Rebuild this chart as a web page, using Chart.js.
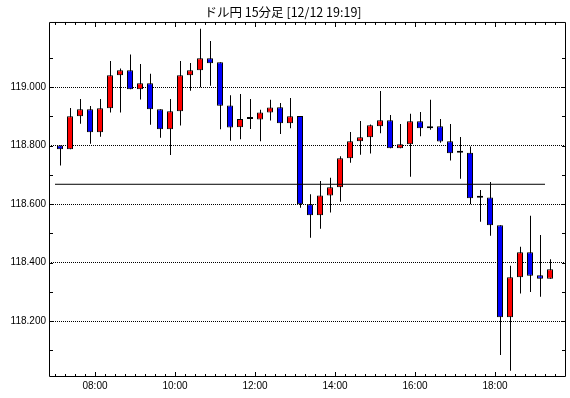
<!DOCTYPE html>
<html>
<head>
<meta charset="utf-8">
<style>
  html, body { margin: 0; padding: 0; background: #ffffff; }
  #wrap { width: 570px; height: 398px; position: relative; }
</style>
<script src="https://cdn.jsdelivr.net/npm/chart.js@4/dist/chart.umd.min.js"></script>
</head>
<body>
<div id="wrap"><canvas id="c" width="570" height="398"></canvas></div>
<script>
const titleText = 'ドル円 15分足 [12/12 19:19]';
const times = ['07:00','07:15','07:30','07:45','08:00','08:15','08:30','08:45','09:00','09:15',
  '09:30','09:45','10:00','10:15','10:30','10:45','11:00','11:15','11:30','11:45',
  '12:00','12:15','12:30','12:45','13:00','13:15','13:30','13:45','14:00','14:15',
  '14:30','14:45','15:00','15:15','15:30','15:45','16:00','16:15','16:30','16:45',
  '17:00','17:15','17:30','17:45','18:00','18:15','18:30','18:45','19:00','19:15'];
const openV  = [118.801,118.788,118.901,118.925,118.846,118.928,119.041,119.058,118.993,119.014,
  118.925,118.856,118.918,119.041,119.058,119.099,119.086,118.938,118.863,118.891,
  118.890,118.914,118.932,118.877,118.902,118.600,118.562,118.630,118.658,118.757,
  118.815,118.829,118.867,118.887,118.791,118.805,118.884,118.860,118.867,118.815,
  118.776,118.776,118.622,118.623,118.528,118.213,118.350,118.435,118.357,118.345];
const highV  = [118.801,118.929,118.960,118.936,118.960,119.090,119.064,119.112,119.080,119.046,
  118.925,118.960,119.090,119.083,119.200,119.158,119.086,118.973,118.977,118.960,
  118.923,118.957,118.946,118.963,118.902,118.634,118.679,118.690,118.764,118.847,
  118.885,118.873,118.987,118.905,118.874,118.909,118.915,118.957,118.891,118.874,
  118.830,118.797,118.648,118.676,118.528,118.389,118.454,118.560,118.494,118.411];
const lowV   = [118.732,118.788,118.875,118.807,118.831,118.914,118.914,118.993,118.958,118.872,
  118.827,118.768,118.869,118.988,119.000,119.005,118.856,118.817,118.822,118.857,
  118.815,118.886,118.840,118.860,118.588,118.485,118.516,118.571,118.608,118.742,
  118.769,118.773,118.843,118.791,118.791,118.694,118.832,118.855,118.810,118.749,
  118.687,118.600,118.540,118.492,118.084,118.030,118.294,118.299,118.283,118.345];
const closeV = [118.788,118.901,118.925,118.846,118.928,119.041,119.058,118.993,119.014,118.925,
  118.856,118.918,119.041,119.058,119.099,119.082,118.937,118.862,118.891,118.891,
  118.914,118.931,118.877,118.901,118.600,118.562,118.630,118.658,118.757,118.815,
  118.829,118.870,118.887,118.791,118.805,118.884,118.860,118.867,118.814,118.774,
  118.776,118.620,118.622,118.528,118.213,118.350,118.435,118.355,118.345,118.377];
const refLevel = 118.668;
const refFrom = '07:00';
const refTo = '19:15';
const yTicks = [118.1,118.2,118.3,118.4,118.5,118.6,118.7,118.8,118.9,119.0,119.1];
const yLabels = ['118.200','118.400','118.600','118.800','119.000'];
const xLabels = ['08:00','10:00','12:00','14:00','16:00','18:00'];

const idx = times.map((t, i) => i);
const wickData = idx.map(i => ({ x: i, y: [lowV[i], highV[i]] }));
const bodyData = idx.map(i => ({ x: i, y: [openV[i], closeV[i]] }));
const bodyColors = idx.map(i => closeV[i] > openV[i] ? '#ff0000' : (closeV[i] < openV[i] ? '#0000ff' : '#000000'));
const refData = [
  { x: times.indexOf(refFrom) - 0.5, y: refLevel },
  { x: times.indexOf(refTo) - 0.5, y: refLevel }
];
const xTickVals = idx.map(i => i - 0.5).concat([times.length - 0.5]);
const labelFor = v => {
  const i = Math.round(v + 0.5);
  const t = i < times.length ? times[i] : '';
  return xLabels.includes(t) ? t : '';
};
const isMajorX = v => labelFor(v) !== '';
const fmtY = v => v.toFixed(3);
const isMajorY = v => yLabels.includes(fmtY(v));

const X_MIN = -1.1, X_MAX = 50.6;
const HALF_PX = (X_MAX - X_MIN) / 517 / 2;

const framePlugin = {
  id: 'frame',
  afterDraw(chart) {
    const { ctx, chartArea: a, scales } = chart;
    ctx.save();
    ctx.strokeStyle = '#000';
    ctx.lineWidth = 1;
    ctx.beginPath();
    ctx.rect(a.left + 0.5, a.top + 0.5, a.right - a.left - 1, a.bottom - a.top - 1);
    ctx.stroke();
    ctx.beginPath();
    scales.x.ticks.forEach(t => {
      const px = Math.round(scales.x.getPixelForValue(t.value)) + 0.5;
      const len = isMajorX(t.value) ? 5 : 3;
      ctx.moveTo(px, a.bottom);
      ctx.lineTo(px, a.bottom - len);
      ctx.moveTo(px, a.top);
      ctx.lineTo(px, a.top + len);
    });
    scales.y.ticks.forEach(t => {
      const py = Math.round(scales.y.getPixelForValue(t.value)) + 0.5;
      const len = 4;
      ctx.moveTo(a.left, py);
      ctx.lineTo(a.left + len, py);
      ctx.moveTo(a.right, py);
      ctx.lineTo(a.right - len, py);
    });
    ctx.stroke();
    ctx.restore();
  }
};

const labelFont = { family: 'Liberation Sans', size: 10 };

new Chart(document.getElementById('c'), {
  type: 'bar',
  data: {
    datasets: [
      {
        type: 'line',
        data: refData,
        borderColor: '#000000',
        borderWidth: 1,
        pointRadius: 0,
        fill: false,
        order: 0
      },
      {
        data: bodyData,
        backgroundColor: bodyColors,
        borderColor: '#000000',
        borderWidth: 1,
        borderSkipped: false,
        barThickness: 6,
        minBarLength: 2,
        inflateAmount: 0,
        grouped: false,
        order: 1
      },
      {
        data: wickData,
        xAxisID: 'xw',
        backgroundColor: '#000000',
        borderWidth: 0,
        barThickness: 1,
        inflateAmount: 0,
        grouped: false,
        order: 2
      }
    ]
  },
  options: {
    responsive: false,
    animation: false,
    events: [],
    layout: { padding: { left: 0, right: 4, top: 0, bottom: 0 } },
    plugins: {
      legend: { display: false },
      tooltip: { enabled: false },
      title: {
        display: true,
        text: titleText,
        color: '#000000',
        font: { family: 'Noto Sans CJK JP', size: 12.5, weight: 'normal', lineHeight: 1.15 },
        padding: { top: 5, bottom: 2.6 }
      }
    },
    scales: {
      x: {
        type: 'linear',
        min: X_MIN,
        max: X_MAX,
        offset: false,
        grid: { display: false, offset: false, drawTicks: false },
        border: { display: false },
        afterBuildTicks: s => { s.ticks = xTickVals.map(v => ({ value: v })); },
        afterFit: s => { s.height = 21; },
        ticks: {
          autoSkip: false,
          maxRotation: 0,
          padding: 3,
          color: '#000000',
          font: labelFont,
          callback: v => labelFor(v)
        }
      },
      xw: {
        type: 'linear',
        display: false,
        position: 'bottom',
        min: X_MIN - HALF_PX,
        max: X_MAX - HALF_PX,
        offset: false,
        grid: { display: false, offset: false }
      },
      y: {
        type: 'linear',
        min: 118.0084,
        max: 119.2235,
        grid: {
          drawTicks: false,
          color: c => (c.tick && isMajorY(c.tick.value)) ? '#000000' : 'rgba(0,0,0,0)',
          lineWidth: 1
        },
        border: { display: false, dash: [1, 1] },
        afterBuildTicks: s => { s.ticks = yTicks.map(v => ({ value: v })); },
        afterFit: s => { s.width = 49; },
        ticks: {
          padding: 3,
          color: '#000000',
          font: labelFont,
          callback: v => isMajorY(v) ? fmtY(v) : ''
        }
      }
    }
  },
  plugins: [framePlugin]
});
</script>
</body>
</html>
